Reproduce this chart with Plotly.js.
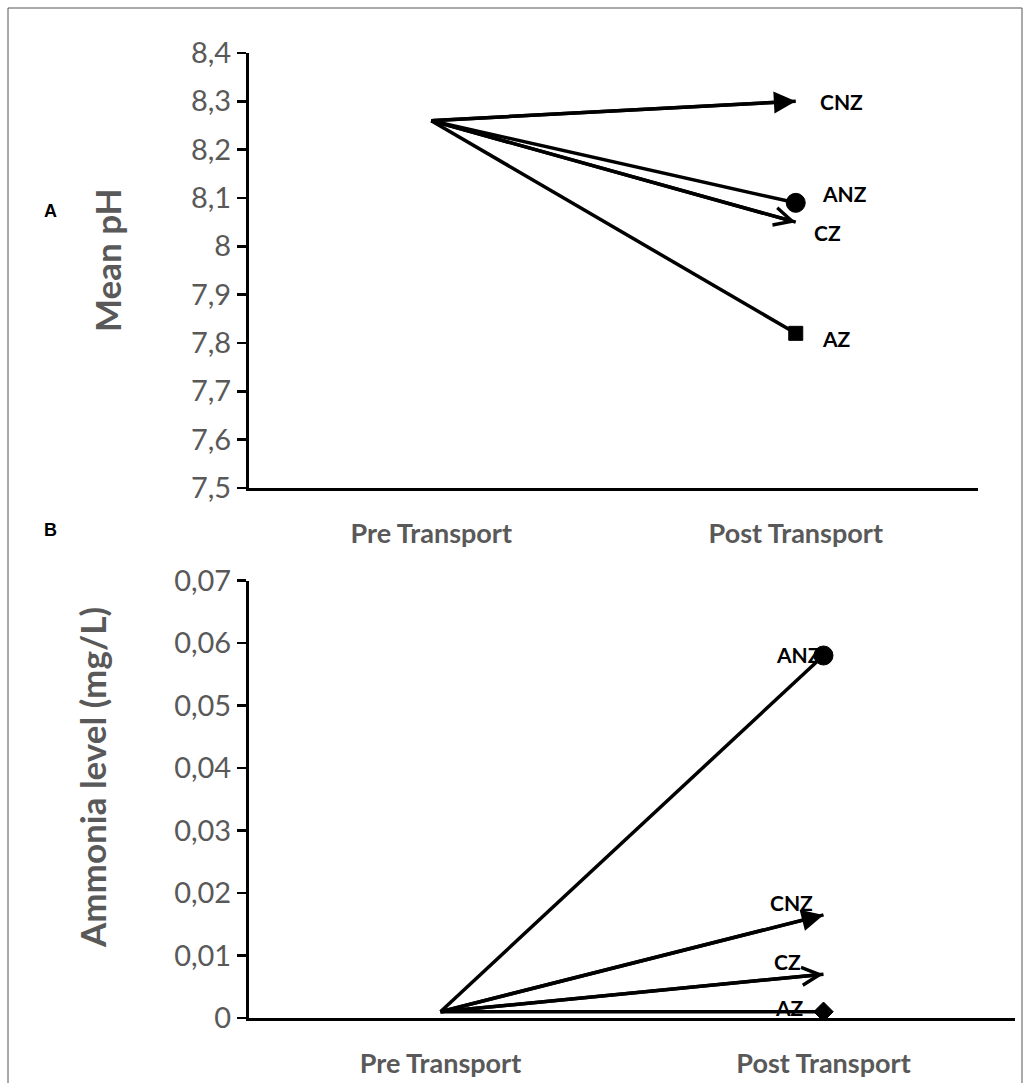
<!DOCTYPE html>
<html><head><meta charset="utf-8">
<script src="https://cdn.plot.ly/plotly-3.0.1.min.js"></script>
<style>html,body{margin:0;padding:0;background:#fff}#chart{width:1030px;height:1083px}</style>
</head><body><div id="chart"></div>
<script>
// ---- data ----
const categories = ['Pre Transport', 'Post Transport'];
const groups = ['CNZ', 'ANZ', 'CZ', 'AZ'];
const phPre = [8.26, 8.26, 8.26, 8.26];
const phPost = [8.30, 8.09, 8.05, 7.82];
const ammoniaPre = [0.001, 0.001, 0.001, 0.001];
const ammoniaPost = [0.0165, 0.058, 0.007, 0.001];
const phTickVals = [7.5, 7.6, 7.7, 7.8, 7.9, 8.0, 8.1, 8.2, 8.3, 8.4];
const phTickText = ['7,5', '7,6', '7,7', '7,8', '7,9', '8', '8,1', '8,2', '8,3', '8,4'];
const ammTickVals = [0, 0.01, 0.02, 0.03, 0.04, 0.05, 0.06, 0.07];
const ammTickText = ['0', '0,01', '0,02', '0,03', '0,04', '0,05', '0,06', '0,07'];

// ---- styles ----
const endTop = {CNZ: 'arrow', ANZ: 'circle', CZ: 'open', AZ: 'square'};
const endBottom = {CNZ: 'arrow', ANZ: 'circle', CZ: 'open', AZ: 'diamond'};
const markerSize = {circle: 19, square: 14, diamond: 15};
const labelShiftTop = {CNZ: [22, 0], ANZ: [24, 9], CZ: [16, -10], AZ: [24, -5]};
const labelShiftBottom = {CNZ: [-56, 12], ANZ: [-50, 1], CZ: [-52, 13], AZ: [-51, 4]};

const traces = [];
const annotations = [];

function addPanel(pre, post, ends, shifts, xa, ya) {
  groups.forEach((g, i) => {
    const e = ends[g];
    const isMarker = !(e === 'arrow' || e === 'open');
    const tr = {
      type: 'scatter',
      x: categories,
      y: [pre[i], post[i]],
      xaxis: xa, yaxis: ya,
      mode: isMarker ? 'lines+markers' : 'lines',
      name: g,
      line: {color: '#000', width: 3.5},
      hoverinfo: 'x+y+name'
    };
    if (isMarker) {
      tr.marker = {symbol: ['circle', e], size: [0, markerSize[e]], color: '#000', opacity: 1,
                   line: {width: 1, color: '#000'}};
    }
    traces.push(tr);
    if (!isMarker) {
      annotations.push({
        xref: xa, yref: ya, axref: xa, ayref: ya,
        x: 1, y: post[i], ax: 0, ay: pre[i],
        text: '', showarrow: true,
        arrowhead: e === 'arrow' ? 2 : 5,
        arrowsize: e === 'arrow' ? 1.25 : 1.0,
        arrowwidth: 3.5, arrowcolor: '#000', standoff: 0
      });
    }
    annotations.push({
      xref: xa, yref: ya, x: 1, y: post[i],
      text: g, showarrow: false, xanchor: 'left', yanchor: 'middle',
      xshift: shifts[g][0], yshift: shifts[g][1],
      font: {family: 'Lato', size: 21, color: '#000', weight: 'bold'}
    });
  });
}

addPanel(phPre, phPost, endTop, labelShiftTop, 'x', 'y');
addPanel(ammoniaPre, ammoniaPost, endBottom, labelShiftBottom, 'x2', 'y2');

const tickFontY = {family: 'Lato', size: 29, color: '#595959'};
const tickFontX = {family: 'Lato', size: 27, color: '#595959', weight: 'bold'};

const xBase = {
  type: 'category', range: [-0.5, 1.5], showline: true, linecolor: '#000', linewidth: 3,
  ticks: 'outside', ticklen: 20, tickcolor: 'rgba(0,0,0,0)', tickfont: tickFontX,
  showgrid: false, zeroline: false, fixedrange: true
};
const yBase = {
  showline: true, linecolor: '#000', linewidth: 3, ticks: 'outside', ticklen: 9,
  tickwidth: 2.5, tickcolor: '#000', tickfont: tickFontY, showgrid: false,
  zeroline: false, fixedrange: true
};

annotations.push(
  {xref: 'paper', yref: 'paper', x: 107 / 1030, y: 1 - 260 / 1083, text: 'Mean pH', textangle: -90,
   showarrow: false, xanchor: 'center', yanchor: 'middle',
   font: {family: 'Lato', size: 35, color: '#595959', weight: 'bold'}},
  {xref: 'paper', yref: 'paper', x: 92 / 1030, y: 1 - 778 / 1083, text: 'Ammonia level (mg/L)', textangle: -90,
   showarrow: false, xanchor: 'center', yanchor: 'middle',
   font: {family: 'Lato', size: 35, color: '#595959', weight: 'bold'}},
  {xref: 'paper', yref: 'paper', x: 50 / 1030, y: 1 - 211 / 1083, text: 'A', showarrow: false,
   xanchor: 'center', yanchor: 'middle', font: {family: 'Liberation Sans', size: 18, color: '#000', weight: 'bold'}},
  {xref: 'paper', yref: 'paper', x: 50 / 1030, y: 1 - 530 / 1083, text: 'B', showarrow: false,
   xanchor: 'center', yanchor: 'middle', font: {family: 'Liberation Sans', size: 18, color: '#000', weight: 'bold'}}
);

const layout = {
  width: 1030, height: 1083,
  margin: {l: 0, r: 0, t: 0, b: 0},
  paper_bgcolor: '#fff', plot_bgcolor: 'rgba(0,0,0,0)',
  showlegend: false,
  xaxis: Object.assign({}, xBase, {domain: [249 / 1030, 978 / 1030], anchor: 'y'}),
  yaxis: Object.assign({}, yBase, {domain: [1 - 488 / 1083, 1 - 53 / 1083], anchor: 'x',
    range: [7.5, 8.4], tickvals: phTickVals, ticktext: phTickText}),
  xaxis2: Object.assign({}, xBase, {domain: [249 / 1030, 1015 / 1030], anchor: 'y2'}),
  yaxis2: Object.assign({}, yBase, {domain: [1 - 1018 / 1083, 1 - 580.5 / 1083], anchor: 'x2',
    range: [0, 0.07], tickvals: ammTickVals, ticktext: ammTickText}),
  annotations: annotations,
  shapes: [{type: 'rect', xref: 'paper', yref: 'paper', x0: 8 / 1030, x1: 1022 / 1030,
    y0: -0.01, y1: 1 - 8 / 1083, line: {color: '#555', width: 1}, fillcolor: 'rgba(0,0,0,0)', layer: 'below'}]
};

Plotly.newPlot('chart', traces, layout, {displayModeBar: false, staticPlot: true});
</script>
</body></html>
